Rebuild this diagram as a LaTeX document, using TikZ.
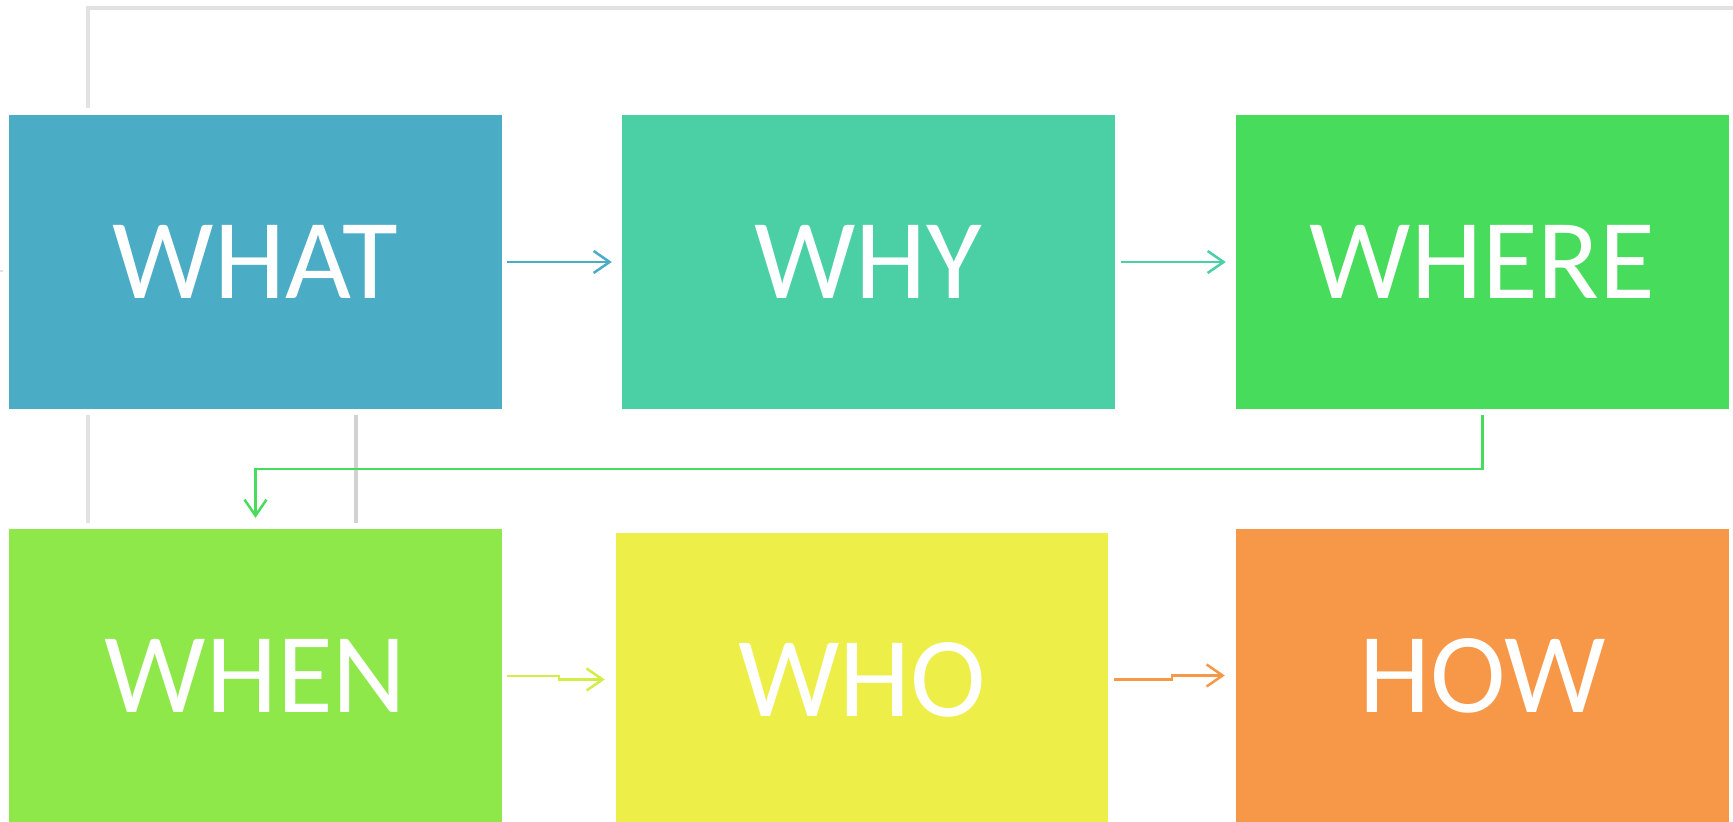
\documentclass[tikz,border=0pt]{standalone}
\usepackage{fontspec}
\setmainfont{Carlito}
\usetikzlibrary{arrows.meta,calc}
\definecolor{cwhat}{RGB}{75,172,198}
\definecolor{cwhy}{RGB}{75,208,165}
\definecolor{cwhere}{RGB}{72,220,92}
\definecolor{cwhen}{RGB}{143,232,74}
\definecolor{cwho}{RGB}{237,239,72}
\definecolor{chow}{RGB}{247,151,72}
\definecolor{cyg}{RGB}{210,236,72}
\definecolor{glight}{RGB}{226,226,226}
\definecolor{gdark}{RGB}{210,210,210}
\tikzset{
  box/.style={rectangle, inner sep=0pt, minimum width=493pt, minimum height=294pt,
    text=white, font=\fontsize{114}{124}\selectfont},
  arr/.style={line width=2.5pt, -{Straight Barb[length=16pt,width=22pt]}},
  gline/.style={line width=3.5pt, glight},
  gline2/.style={line width=3.5pt, gdark},
}
\begin{document}
\begin{tikzpicture}[x=1pt,y=-1pt]
\useasboundingbox (0,0) rectangle (1733,822);
\node[box, fill=cwhat] (what) at (255.5,262) {WHAT};
\node[box, fill=cwhy] (why) at (868.5,262) {WHY};
\node[box, fill=cwhere] (where) at (1482.5,262) {WHERE};
\node[box, fill=cwhen] (when) at (255.5,676) {WHEN};
\node[box, fill=cwho, minimum width=492pt] (who) at (862,679.5) {WHO};
\node[box, fill=chow] (how) at (1482.5,675.5) {HOW};
% gray connectors
\coordinate (topend) at (1740,8);
\coordinate (leftmark) at (0,271);
\draw[gline] ([xshift=79pt,yshift=7pt]what.north west) |- (topend);
\draw[gline] ([xshift=79pt,yshift=-6pt]what.south west) -- ([xshift=79pt,yshift=6pt]when.north west);
\draw[gline2] ([xshift=347pt,yshift=-6pt]what.south west) -- ([xshift=347pt,yshift=6pt]when.north west);
\draw[line width=2pt, glight] (leftmark) -- ++(3pt,0);
% arrows
\draw[arr, cwhat] ([xshift=5pt]what.east) -- ([xshift=-10pt]why.west);
\draw[arr, cwhy] ([xshift=6pt]why.east) -- ([xshift=-10pt]where.west);
\draw[arr, cwhere] ([yshift=-6pt]where.south) -- ++(0,-54pt) -| ([yshift=11pt]when.north);
\draw[arr, cyg] ([xshift=5pt]when.east) -- ++(52pt,0) |- ([xshift=-11pt]who.west);
\draw[arr, chow] ([xshift=6pt]who.east) -- ++(58pt,0) |- ([xshift=-11pt]how.west);
\end{tikzpicture}
\end{document}
